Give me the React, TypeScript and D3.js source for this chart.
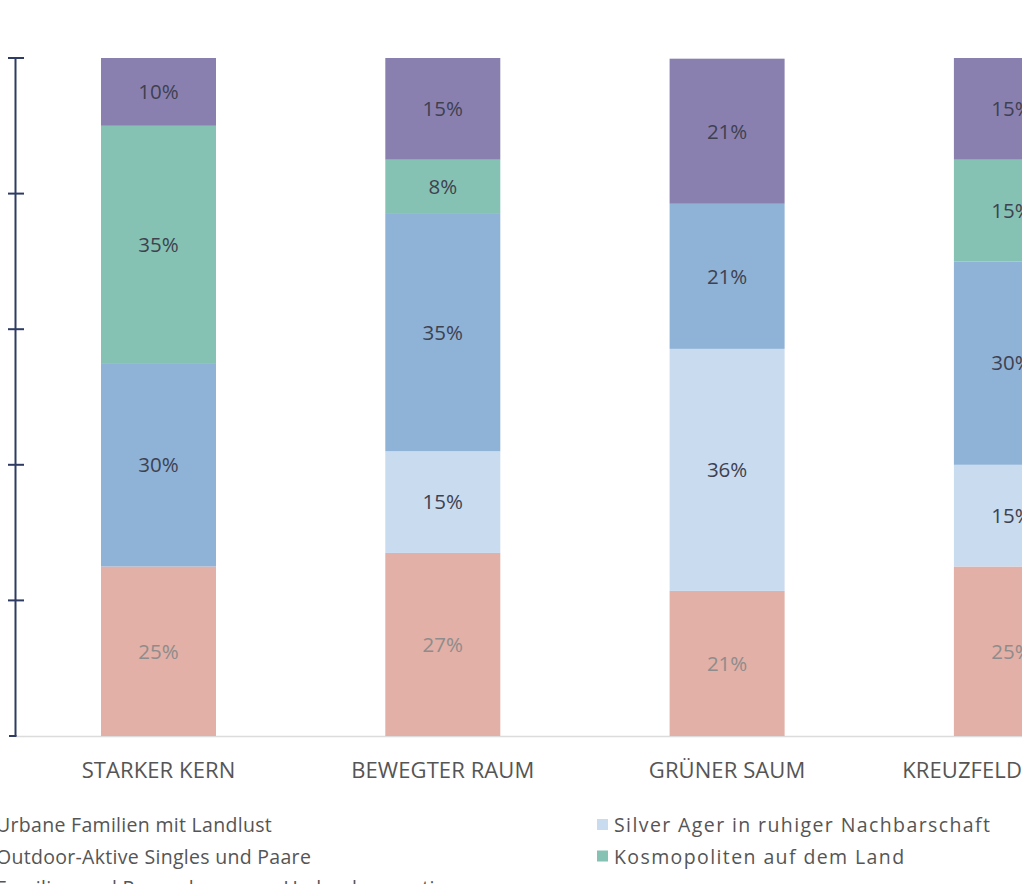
import React from "react";
import * as d3 from "d3";

const categories = ["STARKER KERN", "BEWEGTER RAUM", "GRÜNER SAUM", "KREUZFELD"];
const seriesNames = [
  "Urbane Familien mit Landlust",
  "Silver Ager in ruhiger Nachbarschaft",
  "Outdoor-Aktive Singles und Paare",
  "Kosmopoliten auf dem Land",
  "Familien und Paare der neuen Umlandgeneration",
];
// values per series, in category order
const urbaneFamilien = [25, 27, 21.4, 25];
const silverAger = [0, 15, 35.7, 15];
const outdoorAktive = [30, 35, 21.4, 30];
const kosmopoliten = [35, 8, 0, 15];
const umlandgeneration = [10, 15, 21.4, 15];
const yTicks = [0, 20, 40, 60, 80, 100];

const seriesValues = [urbaneFamilien, silverAger, outdoorAktive, kosmopoliten, umlandgeneration];
const colors = ["#e2b0a6", "#c9dbef", "#8fb2d7", "#86c2b3", "#8a80b0"];
const labelColors = ["#8e8c8c", "#3e4150", "#3e4150", "#3e4150", "#3e4150"];

export default function App() {
  const W = 1022;
  const H = 884;
  const y = d3.scaleLinear().domain([0, 100]).range([736, 58]);
  const step = 284.3;
  const bw = 115;
  const pad = (step - bw) / step;
  const r0 = 101 - (step - bw) / 2;
  const x = d3
    .scaleBand<string>()
    .domain(categories)
    .range([r0, r0 + step * categories.length])
    .paddingInner(pad)
    .paddingOuter(pad / 2);

  const table = categories.map((c, i) => {
    const row: any = { cat: c };
    seriesNames.forEach((s, j) => (row[s] = seriesValues[j][i]));
    return row;
  });
  const stacked = d3.stack<any>().keys(seriesNames)(table);

  const font = "'Open Sans', sans-serif";
  const axisColor = "#2e3c64";
  const axisX = 15.5;

  const legendLeft = [0, 2, 4];
  const legendRight = [1, 3];
  const legendY = (row: number) => 825 + row * 31.5;

  return (
    <svg
      width={W}
      height={H}
      style={{ position: "absolute", left: 0, top: 0, background: "#fff" }}
      fontFamily={font}
    >
      {/* baseline */}
      <line x1={axisX} x2={W} y1={y(0) + 0.5} y2={y(0) + 0.5} stroke="#dcdcdc" strokeWidth={1.5} />
      {/* bars */}
      {stacked.map((layer, si) => (
        <g key={si}>
          {layer.map((d, ci) => {
            const v = d[1] - d[0];
            if (v <= 0) return null;
            const cat = categories[ci];
            const x0 = x(cat)!;
            return (
              <g key={ci}>
                <rect x={x0} width={x.bandwidth()} y={y(d[1])} height={y(d[0]) - y(d[1])} fill={colors[si]} />
                <text
                  x={x0 + x.bandwidth() / 2}
                  y={(y(d[0]) + y(d[1])) / 2}
                  dy="0.36em"
                  textAnchor="middle"
                  fontSize={20.5}
                  fill={labelColors[si]}
                >
                  {Math.round(v) + "%"}
                </text>
              </g>
            );
          })}
        </g>
      ))}
      {/* y axis */}
      <line x1={axisX} x2={axisX} y1={y(100)} y2={y(0)} stroke={axisColor} strokeWidth={2} />
      {yTicks.map((t) => (
        <line
          key={t}
          x1={t === 0 ? 9 : 8}
          x2={t === 0 ? axisX + 1 : 24}
          y1={y(t)}
          y2={y(t)}
          stroke={axisColor}
          strokeWidth={2}
        />
      ))}
      {/* category labels */}
      {categories.map((c, i) => {
        const cx = x(c)! + x.bandwidth() / 2;
        const last = i === categories.length - 1;
        return (
          <text
            key={c}
            x={last ? W : cx}
            y={778}
            textAnchor={last ? "end" : "middle"}
            fontSize={22}
            fill="#555"
            letterSpacing={0.1}
          >
            {c}
          </text>
        );
      })}
      {/* legend */}
      {legendLeft.map((si, r) => (
        <g key={"l" + si}>
          <rect x={-20} y={legendY(r) - 6} width={11} height={11} fill={colors[si]} />
          <text x={-4} y={legendY(r) + 7} fontSize={19.5} fill="#555" letterSpacing={0.3}>
            {seriesNames[si]}
          </text>
        </g>
      ))}
      {legendRight.map((si, r) => (
        <g key={"r" + si}>
          <rect x={597} y={legendY(r) - 6} width={11} height={11} fill={colors[si]} />
          <text x={614} y={legendY(r) + 7} fontSize={19.5} fill="#555" letterSpacing={1.4}>
            {seriesNames[si]}
          </text>
        </g>
      ))}
    </svg>
  );
}
